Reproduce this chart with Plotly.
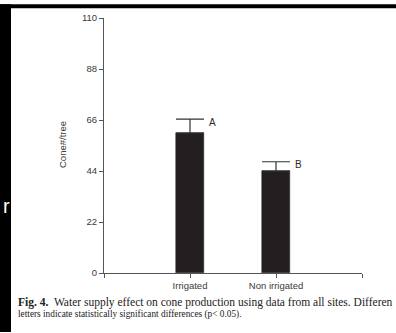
import plotly.graph_objects as go

# Cone production by water supply (all sites)
categories = ["Irrigated", "Non irrigated"]
cone_mean = [60.4, 44.0]
cone_err = [6.0, 4.0]
group_letters = ["A", "B"]
y_ticks = [0, 22, 44, 66, 88, 110]

W, H = 396, 333
L, R, T, B = 104, 34, 14, 60
pw, ph = W - L - R, H - T - B


def px_x(px):
    return (px - L) / pw


def px_y(py):
    return (H - B - py) / ph


xpos = list(range(len(categories)))
ink = "#3a3a3a"

fig = go.Figure()
fig.add_trace(go.Bar(
    x=xpos,
    y=cone_mean,
    width=0.33,
    marker=dict(color="#231f20", line=dict(color="#231f20", width=0.5)),
    error_y=dict(type="data", symmetric=False, array=cone_err,
                 arrayminus=[0] * len(cone_err),
                 color="#333333", thickness=1.2, width=14),
    showlegend=False,
))

# significance letters to the right of each cap
for xi, m, e, lab in zip(xpos, cone_mean, cone_err, group_letters):
    fig.add_annotation(x=xi + 0.2, y=m + e, text=lab, showarrow=False,
                       xanchor="left", yanchor="middle", yshift=-3,
                       font=dict(family="Liberation Sans", size=10, color="#2a2a2a"))

fig.update_xaxes(
    range=[-1, 2],
    tickvals=[-1] + xpos + [2],
    ticktext=[""] + categories + [""],
    ticks="outside", ticklen=4, tickwidth=1, tickcolor="#555",
    showline=True, linecolor="#555", linewidth=1,
    showgrid=False, zeroline=False,
    tickfont=dict(family="Liberation Sans", size=9.5, color=ink),
)
fig.update_yaxes(
    range=[0, 110],
    tickvals=y_ticks,
    ticks="outside", ticklen=4, tickwidth=1, tickcolor="#555",
    showline=True, linecolor="#555", linewidth=1,
    showgrid=False, zeroline=False,
    tickfont=dict(family="Liberation Sans", size=9.5, color=ink),
)

# y-axis title
fig.add_annotation(xref="paper", yref="paper", x=px_x(62), y=px_y(143),
                   text="Cone#/tree", textangle=-90, showarrow=False,
                   xanchor="center", yanchor="middle",
                   font=dict(family="Liberation Sans", size=9.5, color=ink))

# figure caption (first line is set justified, so it runs wider)
fig.add_annotation(xref="paper", yref="paper", x=px_x(16), y=px_y(303),
                   text="<b>Fig. 4.</b>  Water supply effect on cone production using data from all sites. Differen",
                   showarrow=False, xanchor="left", yanchor="middle",
                   font=dict(family="Liberation Serif", size=11.5, color="#222"))
fig.add_annotation(xref="paper", yref="paper", x=px_x(16), y=px_y(315),
                   text="letters indicate statistically significant differences (p&lt; 0.05).",
                   showarrow=False, xanchor="left", yanchor="middle",
                   font=dict(family="Liberation Serif", size=9.3, color="#222"))

# dark page border strips
fig.add_shape(type="rect", xref="paper", yref="paper",
              x0=px_x(0), x1=px_x(11), y0=px_y(H), y1=px_y(0),
              fillcolor="black", line=dict(width=0), layer="above")
fig.add_shape(type="rect", xref="paper", yref="paper",
              x0=px_x(0), x1=px_x(W), y0=px_y(4), y1=px_y(0),
              fillcolor="black", line=dict(width=0), layer="above")
fig.add_annotation(xref="paper", yref="paper", x=px_x(6), y=px_y(205),
                   text="r", showarrow=False, xanchor="center", yanchor="middle",
                   font=dict(family="Liberation Sans", size=20, color="white"))

fig.update_layout(
    width=W, height=H,
    margin=dict(l=L, r=R, t=T, b=B),
    paper_bgcolor="white", plot_bgcolor="white",
    bargap=0,
)

fig.write_html("out.html")
